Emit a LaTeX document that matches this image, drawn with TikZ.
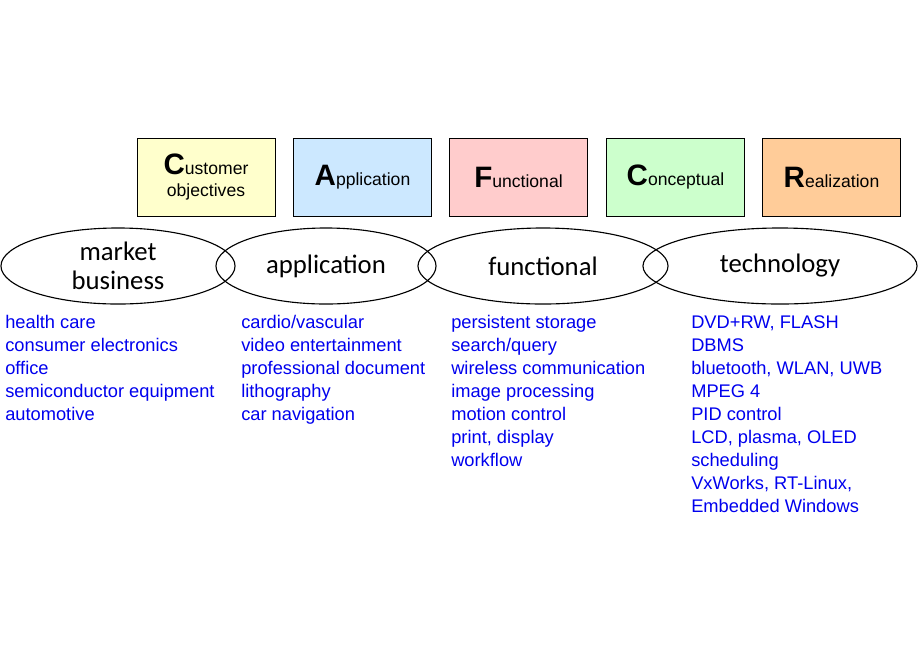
\documentclass[tikz,border=0pt]{standalone}
\usepackage{fontspec}
\setmainfont{Liberation Sans}
\newfontfamily\calfont{Carlito}
\usetikzlibrary{shapes.geometric}
\definecolor{clryellow}{HTML}{FFFFCC}
\definecolor{clrblue}{HTML}{CCE8FF}
\definecolor{clrpink}{HTML}{FFCCCC}
\definecolor{clrgreen}{HTML}{CCFFCC}
\definecolor{clrorange}{HTML}{FFCC99}
\definecolor{clrtext}{HTML}{0000EE}
\tikzset{
    CafcrBox/.style={draw=black,minimum width=3.45cm,minimum height=1.95cm,
    inner sep=0pt,align=center,font=\fontsize{12.5}{15}\selectfont},
    ViewEllipse/.style={draw=black,thick,ellipse,inner sep=0pt,align=center,
    font=\calfont\fontsize{19}{21}\selectfont},
    ItemList/.style={anchor=north west,inner sep=0pt,align=left,text=clrtext,
    font=\fontsize{13}{16.4}\selectfont}    }
\newcommand{\Initial}[1]{{\fontsize{21}{21}\selectfont\bfseries #1}}
\begin{document}
\begin{tikzpicture}[x=0.025cm,y=-0.025cm]
    \useasboundingbox (0,0) rectangle (920,660);

    % CAFCR views
    \node[CafcrBox,fill=clryellow] (cust) at (206,177) {\Initial{C}ustomer\\objectives};
    \node[CafcrBox,fill=clrblue] (appl) at (362.5,177) {\Initial{A}pplication};
    \node[CafcrBox,fill=clrpink] (func) at (518.5,177) {\Initial{F}unctional};
    \node[CafcrBox,fill=clrgreen] (conc) at (675.5,177) {\Initial{C}onceptual};
    \node[CafcrBox,fill=clrorange] (real) at (831.5,177) {\Initial{R}ealization};

    % ellipses
    \node[ViewEllipse,minimum width=5.85cm,minimum height=1.9cm] (market) at (118,266) {market\\business};
    \node[ViewEllipse,minimum width=5.5cm,minimum height=1.9cm] (application) at (326,266) {application};
    \node[ViewEllipse,minimum width=6.25cm,minimum height=1.9cm] (functional) at (543,266) {functional};
    \node[ViewEllipse,minimum width=6.85cm,minimum height=1.9cm] (technology) at (780,266) {technology};

    % lists
    \node[ItemList] (marketlist) at (5,315) {health care\\consumer electronics\\office\\semiconductor equipment\\automotive};
    \node[ItemList] (appllist) at (241,315) {cardio/vascular\\video entertainment\\professional document\\lithography\\car navigation};
    \node[ItemList] (funclist) at (451,315) {persistent storage\\search/query\\wireless communication\\image processing\\motion control\\print, display\\workflow};
    \node[ItemList] (techlist) at (691,315) {DVD+RW, FLASH\\DBMS\\bluetooth, WLAN, UWB\\MPEG 4\\PID control\\LCD, plasma, OLED\\scheduling\\VxWorks, RT-Linux,\\Embedded Windows};
\end{tikzpicture}
\end{document}
